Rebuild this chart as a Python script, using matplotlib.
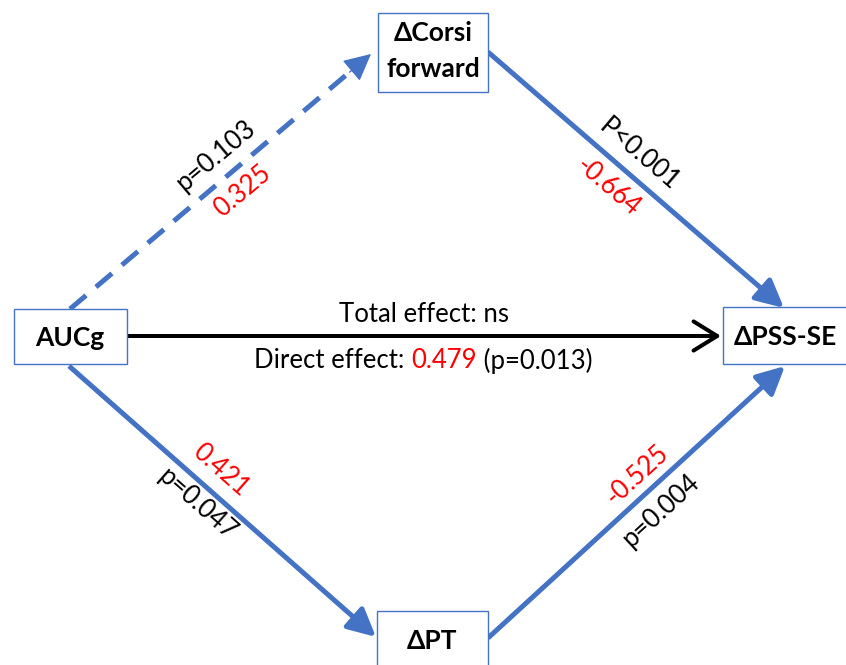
import matplotlib
matplotlib.use("Agg")
import numpy as np
import matplotlib.pyplot as plt
from matplotlib.patches import Rectangle, FancyArrowPatch

plt.rcParams['font.family'] = ['Lato', 'DejaVu Sans']

# path model content
nodes = ["AUCg", "\u0394Corsi\nforward", "\u0394PT", "\u0394PSS-SE"]
coefs = ["0.325", "-0.664", "0.421", "-0.525"]
pvals = ["p=0.103", "P<0.001", "p=0.047", "p=0.004"]
direct_coef = "0.479"
direct_p = "(p=0.013)"
total_text = "Total effect: ns"

BLUE = "#4472C4"
RED = "#FF0000"

fig = plt.figure(figsize=(8.46, 6.65), dpi=100)
ax = fig.add_axes([0, 0, 1, 1])
ax.set_xlim(0, 846)
ax.set_ylim(665, 0)
ax.axis("off")

# boxes (x0, y0, x1, y1) and label centres
boxes = {
    "AUCg": (14, 309, 127, 364),
    "corsi": (378, 13, 488, 92),
    "pt": (377, 611, 488, 672),
    "pss": (723, 307, 848, 364),
}
label_pos = [(70, 338), (433, 51), (432, 641), (785, 337)]
for (x0, y0, x1, y1), name, (lx, ly) in zip(boxes.values(), nodes, label_pos):
    ax.add_patch(Rectangle((x0, y0), x1 - x0, y1 - y0, facecolor="white",
                           edgecolor=BLUE, linewidth=1.0, zorder=3))
    ax.text(lx, ly, name, ha="center", va="center", fontsize=19,
            fontweight="bold", color="black", zorder=4, linespacing=1.6)

blue_lw = 3.6
head = "-|>,head_length=17,head_width=8.5"

# dashed path AUCg -> Corsi
s, e = np.array([70, 309]), np.array([371, 54])
u = (e - s) / np.hypot(*(e - s))
b = e - 26 * u
ax.plot([s[0], b[0]], [s[1], b[1]], color=BLUE, lw=blue_lw,
        dashes=(4.2, 2.6), solid_capstyle="butt", dash_capstyle="butt", zorder=2)
ax.add_patch(FancyArrowPatch(tuple(e - 28 * u), tuple(e), arrowstyle=head,
                             mutation_scale=1, color=BLUE, lw=1, zorder=2,
                             shrinkA=0, shrinkB=0))

# solid paths
for (sx, sy), (ex, ey) in [((488, 52), (784, 308)),
                           ((69, 366), (376, 637)),
                           ((488, 638), (785, 366))]:
    ax.add_patch(FancyArrowPatch((sx, sy), (ex, ey), arrowstyle=head,
                                 mutation_scale=1, color=BLUE, lw=blue_lw,
                                 capstyle="butt", zorder=2, shrinkA=0, shrinkB=0))

# direct path
ax.add_patch(FancyArrowPatch((127, 336), (721, 336),
                             arrowstyle="->,head_length=17,head_width=10.5",
                             mutation_scale=1, color="black", lw=2.9,
                             zorder=2, shrinkA=0, shrinkB=0))

# labels along paths
fs = 18.5
lab = dict(ha="center", va="center", rotation_mode="anchor", fontsize=fs)
ax.text(216, 156, pvals[0], rotation=40, color="black", **lab)
ax.text(243, 191, coefs[0], rotation=40, color=RED, **lab)
ax.text(639, 155, pvals[1], rotation=-40.5, color="black", **lab)
ax.text(608, 187, coefs[1], rotation=-40.5, color=RED, **lab)
ax.text(221, 470, coefs[2], rotation=-41.5, color=RED, **lab)
ax.text(197, 504, pvals[2], rotation=-41.5, color="black", **lab)
ax.text(637, 475, coefs[3], rotation=42.5, color=RED, **lab)
ax.text(661, 511, pvals[3], rotation=42.5, color="black", **lab)

ax.text(424, 314, total_text, ha="center", va="center", fontsize=fs)
t1 = ax.text(254, 361, "Direct effect: ", ha="left", va="center", fontsize=fs)
t2 = ax.annotate(direct_coef, xy=(1, 0), xycoords=t1, ha="left", va="bottom",
                 fontsize=fs, color=RED)
ax.annotate(" " + direct_p, xy=(1, 0), xycoords=t2, ha="left", va="bottom",
            fontsize=fs, color="black")

plt.savefig("out.png", dpi=100)
